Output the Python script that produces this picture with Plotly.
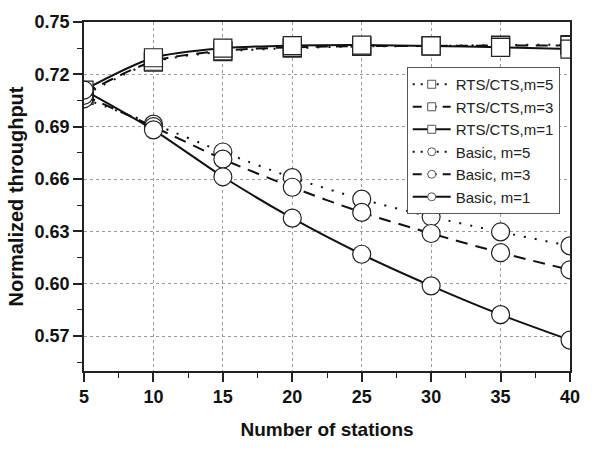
import plotly.graph_objects as go

stations = [5, 10, 15, 20, 25, 30, 35, 40]

rts_m5 = [0.708, 0.7270, 0.7330, 0.7350, 0.7360, 0.7363, 0.7368, 0.7370]
rts_m3 = [0.709, 0.7275, 0.7335, 0.7355, 0.7362, 0.7363, 0.7365, 0.7366]
rts_m1 = [0.711, 0.7295, 0.7350, 0.7365, 0.7368, 0.7363, 0.7355, 0.7345]

basic_m5 = [0.706, 0.6915, 0.6755, 0.6608, 0.6485, 0.6384, 0.6297, 0.6217]
basic_m3 = [0.708, 0.6900, 0.6714, 0.6553, 0.6409, 0.6288, 0.6178, 0.6080]
basic_m1 = [0.711, 0.6882, 0.6613, 0.6376, 0.6169, 0.5988, 0.5823, 0.5677]

x_ticks = [5, 10, 15, 20, 25, 30, 35, 40]
y_ticks = [0.57, 0.60, 0.63, 0.66, 0.69, 0.72, 0.75]
y_tick_labels = ["0.57", "0.60", "0.63", "0.66", "0.69", "0.72", "0.75"]

series = [
    ("RTS/CTS,m=5", rts_m5, "square", "2px,9px"),
    ("RTS/CTS,m=3", rts_m3, "square", "12px,8px"),
    ("RTS/CTS,m=1", rts_m1, "square", "solid"),
    ("Basic, m=5", basic_m5, "circle", "2px,9px"),
    ("Basic, m=3", basic_m3, "circle", "12px,8px"),
    ("Basic, m=1", basic_m1, "circle", "solid"),
]

FONT = "Arial, Liberation Sans, sans-serif"
fig = go.Figure()

# data traces
for name, vals, sym, dash in series:
    fig.add_trace(go.Scatter(
        x=stations, y=vals, mode="lines+markers", name=name, showlegend=False,
        line=dict(color="#111111", width=2, dash=dash, shape="spline", smoothing=0.8),
        marker=dict(symbol=sym, size=18,
                    color="white", line=dict(color="#222222", width=1.2)),
    ))

# legend entries
legend_dash = {"2px,9px": "2px,6px", "12px,8px": "9px,6px", "solid": "solid"}
for name, vals, sym, dash in series:
    fig.add_trace(go.Scatter(
        x=[None], y=[None], mode="lines+markers", name=name, showlegend=True,
        line=dict(color="#111111", width=2, dash=legend_dash[dash]),
        marker=dict(symbol=sym, size=8, color="white",
                    line=dict(color="#555555", width=1)),
    ))

axis_common = dict(
    showline=True, linecolor="#222222", linewidth=1.5, mirror=True,
    ticks="outside", ticklen=9, tickwidth=1.5, tickcolor="#222222",
    showgrid=True, gridcolor="#9a9a9a", gridwidth=1, griddash="dot",
    zeroline=False,
    tickfont=dict(family=FONT, size=18, color="#111111", weight="bold"),
)

fig.update_xaxes(
    range=[5, 40], tickmode="array", tickvals=x_ticks,
    minor=dict(ticks="outside", dtick=2.5, tick0=5, ticklen=5, tickwidth=1.2,
               tickcolor="#222222", showgrid=False),
    title=dict(text="Number of stations", standoff=16,
               font=dict(family=FONT, size=19, color="#111111", weight="bold")),
    **axis_common,
)
fig.update_yaxes(
    range=[0.55, 0.75], tickmode="array", tickvals=y_ticks, ticktext=y_tick_labels,
    minor=dict(ticks="outside", tickvals=[0.555, 0.585, 0.615, 0.645, 0.675, 0.705, 0.735],
               ticklen=5, tickwidth=1.2, tickcolor="#222222", showgrid=False),
    title=dict(text="Normalized throughput", standoff=6,
               font=dict(family=FONT, size=20, color="#111111", weight="bold")),
    **axis_common,
)

fig.update_layout(
    width=592, height=449,
    margin=dict(l=84, r=14, t=13, b=71),
    plot_bgcolor="white", paper_bgcolor="white",
    legend=dict(
        x=0.664, y=0.871, xanchor="left", yanchor="top",
        bgcolor="white", bordercolor="#555555", borderwidth=1,
        font=dict(family=FONT, size=15, color="#222222"),
        tracegroupgap=0, itemwidth=38,
    ),
)

fig.write_html("out.html")
